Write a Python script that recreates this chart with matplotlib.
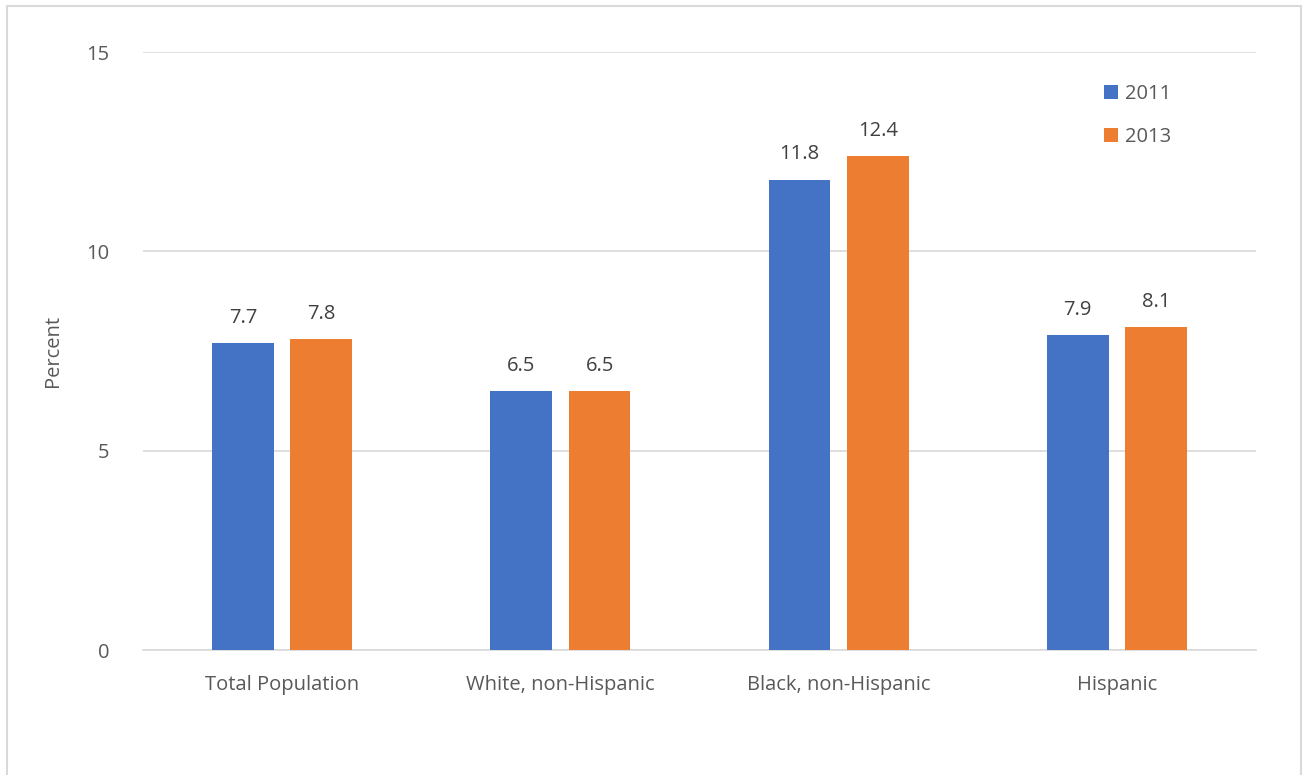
import numpy as np
import matplotlib.pyplot as plt
from matplotlib.patches import Rectangle

plt.rcParams['font.family'] = ['Open Sans', 'DejaVu Sans']

groups = ['Total Population', 'White, non-Hispanic', 'Black, non-Hispanic', 'Hispanic']
years = ['2011', '2013']
pct_2011 = [7.7, 6.5, 11.8, 7.9]
pct_2013 = [7.8, 6.5, 12.4, 8.1]
yticks = [0, 5, 10, 15]

blue = '#4472C4'
orange = '#ED7D31'
text_col = '#595959'
grid_col = '#D9D9D9'
fs = 14.5

fig = plt.figure(figsize=(13.04, 7.75), dpi=100)
# outer chart frame
fig.patches.append(Rectangle((7 / 1304, -0.01), 1294 / 1304, 1 - 6 / 775 + 0.01,
                             transform=fig.transFigure, fill=False,
                             edgecolor=grid_col, linewidth=1.5))

ax = fig.add_axes([143 / 1304, 1 - 650 / 775, 1113 / 1304, 598 / 775])

x = np.arange(len(groups))
w = 0.222
off = 0.141
b1 = ax.bar(x - off, pct_2011, w, color=blue, label=years[0], zorder=3)
b2 = ax.bar(x + off, pct_2013, w, color=orange, label=years[1], zorder=3)

for bars, vals in ((b1, pct_2011), (b2, pct_2013)):
    for r, v in zip(bars, vals):
        ax.text(r.get_x() + r.get_width() / 2, v + 0.38, f'{v:.1f}',
                ha='center', va='bottom', fontsize=fs, color='#404040')

ax.set_xlim(-0.5, len(groups) - 0.5)
ax.set_ylim(0, 15)
ax.set_yticks(yticks)
ax.set_xticks(x)
ax.set_xticklabels(groups)
ax.grid(axis='y', color=grid_col, linewidth=1.2, zorder=0)
ax.tick_params(axis='both', length=0, labelsize=fs, colors=text_col)
ax.tick_params(axis='y', pad=24)
ax.tick_params(axis='x', pad=18)
for s in ['top', 'right', 'left']:
    ax.spines[s].set_visible(False)
ax.spines['bottom'].set_color(grid_col)
ax.spines['bottom'].set_linewidth(1.2)
ax.set_ylabel('Percent', fontsize=fs, color=text_col, labelpad=17)

leg = ax.legend(loc='upper left', bbox_to_anchor=(0.847, 0.977), frameon=False,
                fontsize=fs, handlelength=0.7, handleheight=0.7,
                labelspacing=1.15, handletextpad=0.35)
for t in leg.get_texts():
    t.set_color(text_col)

fig.savefig('out.png', dpi=100)
